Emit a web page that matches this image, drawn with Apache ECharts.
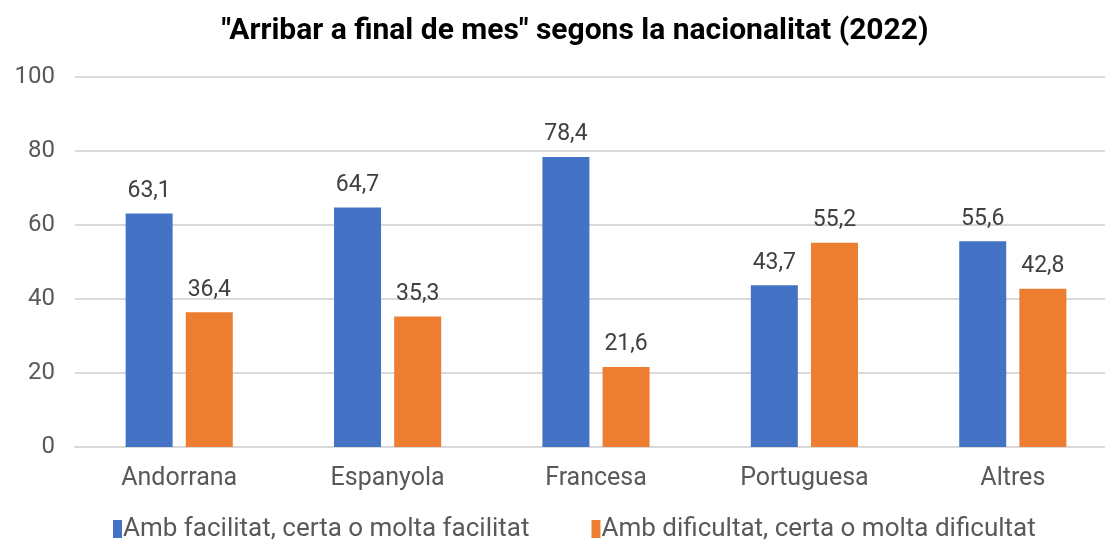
<!DOCTYPE html>
<html>
<head>
<meta charset="utf-8">
<title>Arribar a final de mes</title>
<script src="https://cdn.jsdelivr.net/npm/echarts@6/dist/echarts.min.js"></script>
<style>
  html, body { margin: 0; padding: 0; background: #fff; overflow: hidden; }
  #main { width: 1117px; height: 541px; }
</style>
</head>
<body>
<div id="main"></div>
<script>
// dades llegides del gràfic
var categories = ["Andorrana", "Espanyola", "Francesa", "Portuguesa", "Altres"];
var facilitat = [63.1, 64.7, 78.4, 43.7, 55.6];
var dificultat = [36.4, 35.3, 21.6, 55.2, 42.8];
var seriesNames = ["Amb facilitat, certa o molta facilitat", "Amb dificultat, certa o molta dificultat"];
var yTicks = [0, 20, 40, 60, 80, 100];

var font = "Roboto";
function coma(p) { return p.value.toFixed(1).replace(".", ","); }

var chart = echarts.init(document.getElementById("main"));
chart.setOption({
  animation: false,
  textStyle: { fontFamily: font },
  title: {
    text: '"Arribar a final de mes" segons la nacionalitat (2022)',
    left: 570,
    textAlign: "center",
    top: 11,
    textStyle: { fontSize: 30, fontWeight: "bold", color: "#000", fontFamily: font }
  },
  legend: {
    top: 511,
    left: 108,
    itemWidth: 9,
    itemHeight: 18,
    itemGap: 62,
    icon: "rect",
    textStyle: { fontSize: 26, color: "#595959", fontFamily: font, padding: [0, 0, 0, -4] }
  },
  grid: { left: 75, right: 0, top: 77, bottom: 94, containLabel: false },
  xAxis: {
    type: "category",
    data: categories,
    axisTick: { show: false },
    axisLine: { lineStyle: { color: "#d9d9d9", width: 2 } },
    axisLabel: { fontSize: 25, color: "#595959", margin: 19, fontFamily: font }
  },
  yAxis: {
    type: "value",
    min: yTicks[0],
    max: yTicks[yTicks.length - 1],
    interval: 20,
    axisLine: { show: false },
    axisTick: { show: false },
    splitLine: { lineStyle: { color: "#d9d9d9", width: 2 } },
    axisLabel: { fontSize: 24, color: "#595959", margin: 20, fontFamily: font }
  },
  series: [
    {
      name: seriesNames[0],
      type: "bar",
      data: facilitat,
      barWidth: 47,
      barGap: "28%",
      itemStyle: { color: "#4472C4" },
      label: { show: true, position: "top", distance: 11, formatter: coma, fontSize: 23, color: "#404040", fontFamily: font }
    },
    {
      name: seriesNames[1],
      type: "bar",
      data: dificultat,
      barWidth: 47,
      barGap: "28%",
      itemStyle: { color: "#ED7D31" },
      label: { show: true, position: "top", distance: 11, formatter: coma, fontSize: 23, color: "#404040", fontFamily: font }
    }
  ]
});
</script>
</body>
</html>
